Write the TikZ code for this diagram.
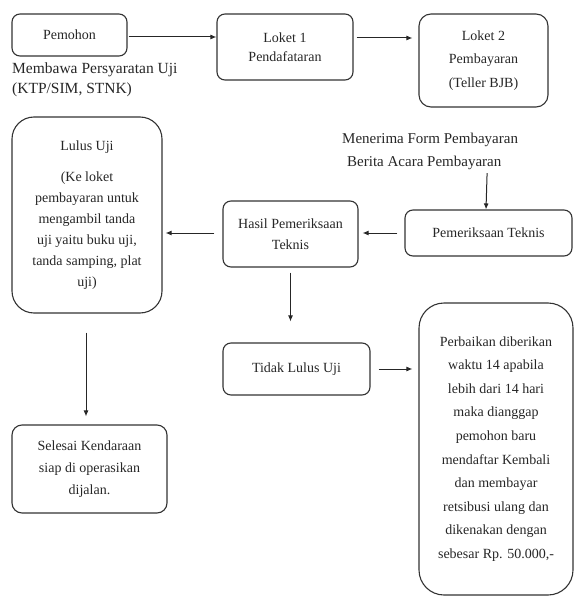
\documentclass[tikz,border=0pt]{standalone}
\usepackage{fontspec}
\setmainfont{Liberation Serif}
\usetikzlibrary{positioning,arrows.meta}

\begin{document}
\begin{tikzpicture}[
x=1pt, y=-1pt,
box/.style={
  draw=black!80,
  line width=1.1pt,
  rounded corners=8pt,
  align=center,
  inner sep=0pt,
  text=black!85,
  font=\fontsize{14}{21}\selectfont
  },
note/.style={
  align=left,
  inner sep=0pt,
  text=black!85,
  font=\fontsize{15.5}{20}\selectfont
  },
flow/.style={
  ->,
  line width=1pt,
  draw=black!85
  },
>={Latex[length=6pt,width=5pt]}
]
\useasboundingbox (0,0) rectangle (575,596);

\node[box, minimum width=115pt, minimum height=42pt] (pemohon) at (69.5,35) {Pemohon};
\node[box, minimum width=136pt, minimum height=66pt, font=\fontsize{14}{19}\selectfont] (loket1) at (285,47) {Loket 1\\Pendafataran};
\node[box, minimum width=129pt, minimum height=93pt, rounded corners=12pt, font=\fontsize{14}{23.5}\selectfont] (loket2) at (483.5,60.5) {Loket 2\\Pembayaran\\(Teller BJB)};

\node[note, anchor=west] (syarat) at (12,80) {Membawa Persyaratan Uji\\(KTP/SIM, STNK)};
\node[note, anchor=west, font=\fontsize{15}{23}\selectfont] (terima) at (342,151.5) {Menerima Form Pembayaran\\\hspace*{5pt}Berita Acara Pembayaran};

\node[box, minimum width=150pt, minimum height=196pt, rounded corners=22pt] (lulus) at (87,215)
  {Lulus Uji\\[10pt](Ke loket\\pembayaran untuk\\mengambil tanda\\uji yaitu buku uji,\\tanda samping, plat\\uji)};
\node[box, minimum width=135pt, minimum height=66pt] (hasil) at (290.5,234) {Hasil Pemeriksaan\\Teknis};
\node[box, minimum width=167pt, minimum height=46pt] (pemtek) at (488.5,233) {Pemeriksaan Teknis};

\node[box, minimum width=147pt, minimum height=52pt] (tidak) at (296.5,369) {Tidak Lulus Uji};
\node[box, minimum width=154pt, minimum height=292pt, rounded corners=25pt, font=\fontsize{14}{23.6}\selectfont] (perbaikan) at (496,449)
  {Perbaikan diberikan\\waktu 14 apabila\\lebih dari 14 hari\\maka dianggap\\pemohon baru\\mendaftar Kembali\\dan membayar\\retsibusi ulang dan\\dikenakan dengan\\sebesar Rp. 50.000,-};

\node[box, minimum width=155pt, minimum height=88pt, rounded corners=10pt, font=\fontsize{14}{22}\selectfont] (selesai) at (89.5,469)
  {Selesai Kendaraan\\siap di operasikan\\dijalan.};

\draw[flow, shorten <=1pt] ([yshift=-2pt]pemohon.east) -- ([yshift=-2pt]pemohon.east -| loket1.west);
\draw[flow, shorten <=3pt, shorten >=6pt] ([yshift=9pt]loket1.east) -- ([yshift=9pt]loket1.east -| loket2.west);
\draw[flow, shorten <=7pt, shorten >=4pt] (pemtek.west) -- (pemtek.west -| hasil.east);
\draw[flow, shorten <=8pt, shorten >=3pt] ([yshift=1pt]hasil.west) -- ([yshift=1pt]hasil.west -| lulus.east);
\draw[flow, shorten <=5pt, shorten >=21pt] (hasil.south) -- (hasil.south |- tidak.north);
\draw[flow, shorten <=8pt, shorten >=6pt] (tidak.east) -- (tidak.east -| perbaikan.west);
\draw[flow, shorten <=19pt, shorten >=8pt] ([xshift=-1pt]lulus.south) -- ([xshift=-1pt]lulus.south |- selesai.north);
\draw[flow] ([xshift=57pt,yshift=-3pt]terima.south) -- ([xshift=-2.5pt]pemtek.north);

\end{tikzpicture}
\end{document}
